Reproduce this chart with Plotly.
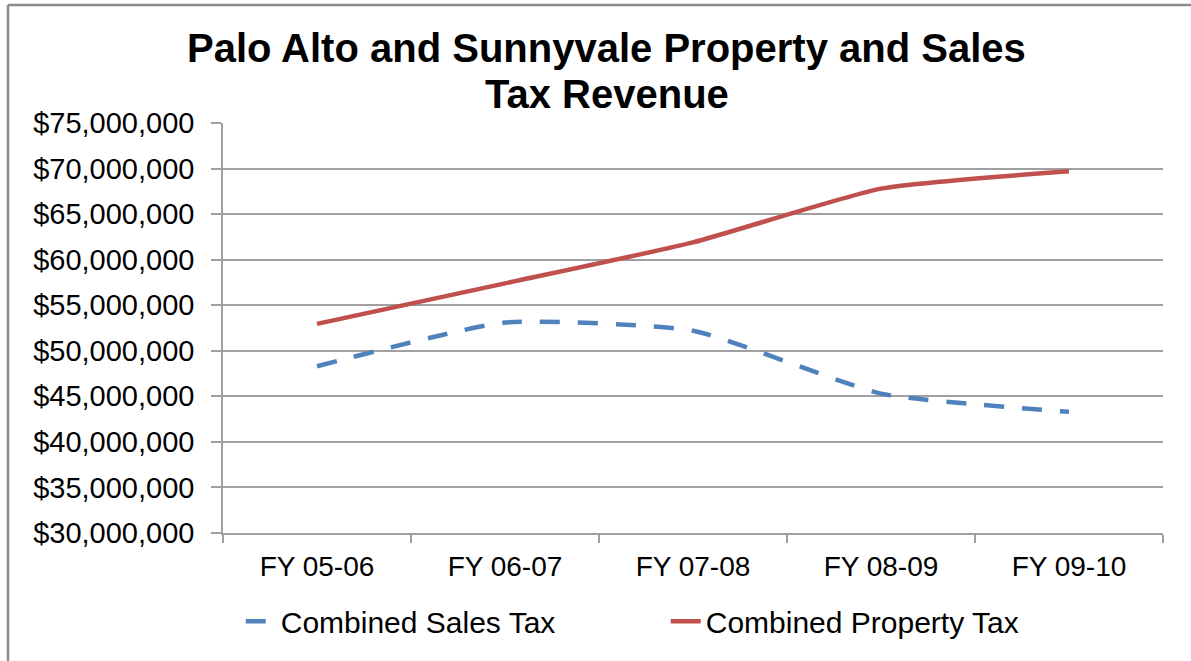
import plotly.graph_objects as go

categories = ["FY 05-06", "FY 06-07", "FY 07-08", "FY 08-09", "FY 09-10"]
sales_tax = [48300000, 53100000, 52200000, 45300000, 43300000]
property_tax = [52950000, 57400000, 61900000, 67800000, 69700000]
series_names = ["Combined Sales Tax", "Combined Property Tax"]
title_lines = ["Palo Alto and Sunnyvale Property and Sales", "Tax Revenue"]

FONT = "Liberation Sans, Arial, sans-serif"

fig = go.Figure()
fig.add_trace(go.Scatter(
    x=categories, y=sales_tax, name=series_names[0], mode="lines",
    line=dict(color="#4F81BD", width=4.5, dash="20px,18px", shape="spline", smoothing=0.5),
))
fig.add_trace(go.Scatter(
    x=categories, y=property_tax, name=series_names[1], mode="lines",
    line=dict(color="#C0504D", width=4.5, shape="spline", smoothing=0.5),
))

fig.update_layout(
    width=1191, height=661,
    margin=dict(l=223, r=28, t=123, b=128),
    paper_bgcolor="white", plot_bgcolor="white",
    font=dict(family=FONT, size=28, color="#000000"),
    showlegend=True,
    legend=dict(orientation="h", x=0.471, xanchor="center", y=-0.215, yanchor="middle",
                font=dict(family=FONT, size=30, color="#000000"),
                entrywidth=380, entrywidthmode="pixels", bgcolor="rgba(0,0,0,0)"),
)

# title lines as annotations (plot area spans 410 px vertically)
for txt, ypos in zip(title_lines, [1.182, 1.071]):
    fig.add_annotation(text=f"<b>{txt}</b>", xref="paper", yref="paper",
                       x=0.4085, y=ypos, xanchor="center", yanchor="middle",
                       showarrow=False,
                       font=dict(family=FONT, size=40, color="#000000"))

fig.update_xaxes(
    type="category", range=[-0.5, 4.5],
    showline=True, linecolor="#A0A0A0", linewidth=1.5,
    ticks="outside", tickson="boundaries", ticklen=8, tickcolor="#A0A0A0", tickwidth=1.5,
    showgrid=False, ticklabelstandoff=8,
    tickfont=dict(family=FONT, size=28, color="#000000"),
)
fig.update_yaxes(
    range=[30000000, 75000000], dtick=5000000, tick0=30000000,
    tickprefix="$", tickformat=",d",
    showline=True, linecolor="#A0A0A0", linewidth=1.5,
    ticks="outside", ticklen=10, tickcolor="#A0A0A0", tickwidth=1.5,
    showgrid=True, gridcolor="#A0A0A0", gridwidth=1.5,
    zeroline=False, ticklabelstandoff=11,
    tickfont=dict(family=FONT, size=29, color="#000000"),
)

# outer chart frame (left and top edges visible in the reference)
fig.add_shape(type="line", xref="paper", yref="paper",
              x0=-0.2287, x1=-0.2287, y0=1.2878, y1=-0.35,
              line=dict(color="#8C8C8C", width=2.5))
fig.add_shape(type="line", xref="paper", yref="paper",
              x0=-0.2287, x1=1.05, y0=1.2878, y1=1.2878,
              line=dict(color="#8C8C8C", width=2.5))

fig.write_html("out.html", config={"displayModeBar": False},
               post_script="document.body.style.margin='0px';")
